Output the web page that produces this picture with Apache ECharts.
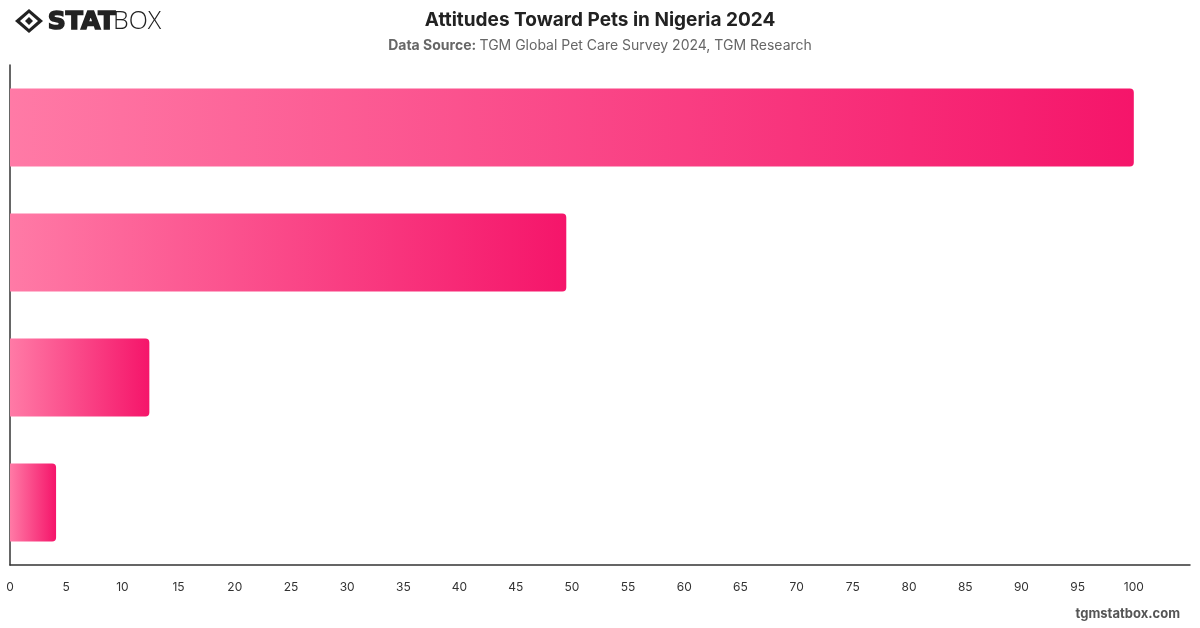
<!DOCTYPE html>
<html>
<head>
<meta charset="utf-8">
<script src="https://cdn.jsdelivr.net/npm/echarts@6/dist/echarts.min.js"></script>
<style>
  html, body { margin: 0; padding: 0; background: #fff; }
  #chart { width: 1200px; height: 628px; }
</style>
</head>
<body>
<div id="chart"></div>
<script>
// horizontal bar chart - labels on the y axis are hidden in the original
const categories = ['Attitude 1', 'Attitude 2', 'Attitude 3', 'Attitude 4']
const values = [100, 49.5, 12.4, 4.1]
const xTicks = { min: 0, max: 105, interval: 5 }

const chart = echarts.init(document.getElementById('chart'))

const barGradient = new echarts.graphic.LinearGradient(0, 0, 1, 0, [
  { offset: 0, color: '#ff7aa6' },
  { offset: 1, color: '#f5156a' }
])

const option = {
  backgroundColor: '#fff',
  textStyle: { fontFamily: 'Inter, "Noto Sans", sans-serif' },
  title: {
    left: 'center',
    top: 6,
    text: 'Attitudes Toward Pets in Nigeria 2024',
    textStyle: { fontSize: 19, fontWeight: 'bold', color: '#222' },
    subtext: '{b|Data Source:} {n|TGM Global Pet Care Survey 2024, TGM Research}',
    itemGap: 9,
    subtextStyle: {
      rich: {
        b: { fontSize: 14, fontWeight: 'bold', color: '#666' },
        n: { fontSize: 14, color: '#666' }
      }
    }
  },
  grid: { left: 10, right: 10, top: 65, bottom: 63, containLabel: false },
  xAxis: {
    type: 'value',
    min: xTicks.min,
    max: xTicks.max,
    interval: xTicks.interval,
    axisLine: { show: true, lineStyle: { color: '#333', width: 1.5 } },
    axisTick: { show: false },
    splitLine: { show: false },
    axisLabel: { color: '#333', fontSize: 12, margin: 16, showMaxLabel: false }
  },
  yAxis: {
    type: 'category',
    inverse: true,
    data: categories,
    axisLine: { show: true, lineStyle: { color: '#333', width: 1.5 } },
    axisTick: { show: false },
    axisLabel: { show: false }
  },
  series: [{
    type: 'bar',
    data: values,
    barCategoryGap: '37.6%',
    itemStyle: {
      color: barGradient,
      borderRadius: [0, 4, 4, 0]
    }
  }],
  graphic: [
    // logo mark
    {
      type: 'group',
      left: 15,
      top: 9,
      children: [
        { type: 'polygon', shape: { points: [[13, 0], [27, 12], [13, 24], [-1, 12]] }, style: { fill: '#222' } },
        { type: 'polygon', shape: { points: [[13, 4], [22, 12], [13, 20], [4, 12]] }, style: { fill: '#fff' } },
        { type: 'polygon', shape: { points: [[13, 8], [17, 12], [13, 16], [9, 12]] }, style: { fill: '#222' } },
        { type: 'text', left: 31, top: 0, style: { text: 'STAT', font: '900 25px "DejaVu Sans", sans-serif', fill: '#222', stroke: '#222', lineWidth: 1.6 } },
        { type: 'text', left: 97, top: 0, style: { text: 'BOX', font: '300 25px "Open Sans", sans-serif', fill: '#222' } }
      ]
    },
    {
      type: 'text',
      right: 20,
      top: 608,
      style: { text: 'tgmstatbox.com', font: 'bold 13px Inter, sans-serif', fill: '#555' }
    }
  ]
}

chart.setOption(option)
</script>
</body>
</html>
